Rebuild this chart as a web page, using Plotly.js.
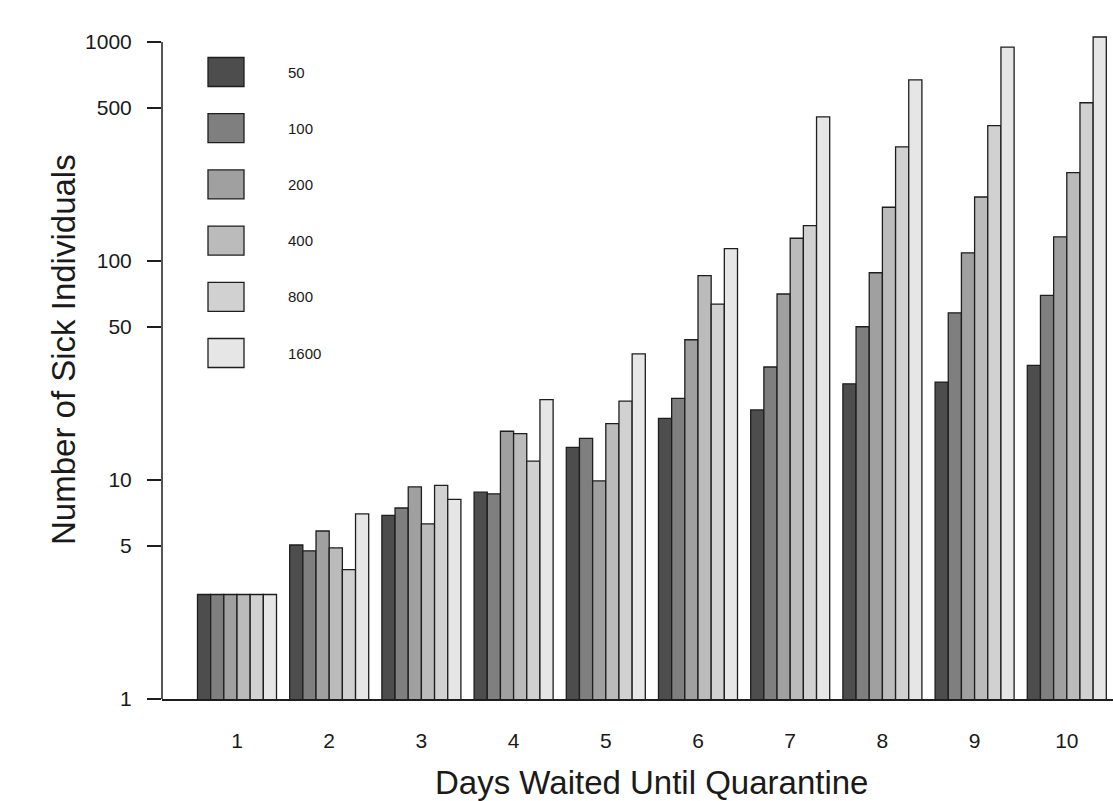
<!DOCTYPE html>
<html>
<head>
<meta charset="utf-8">
<script src="https://cdn.plot.ly/plotly-3.0.1.min.js"></script>
<style>
  html, body { margin: 0; padding: 0; background: #ffffff; }
  #chart { width: 1113px; height: 801px; }
</style>
</head>
<body>
<div id="chart"></div>
<script>
// ---- data ----
var days = [1, 2, 3, 4, 5, 6, 7, 8, 9, 10];
var seriesNames = ["50", "100", "200", "400", "800", "1600"];
var s50   = [3, 5.05, 6.9, 8.8, 14.1, 19.1, 20.9, 27.5, 28.0, 33.4];
var s100  = [3, 4.75, 7.45, 8.65, 15.5, 23.6, 32.8, 50.1, 58.0, 69.7];
var s200  = [3, 5.85, 9.3, 16.7, 9.9, 43.7, 70.7, 88.4, 109, 129];
var s400  = [3, 4.9, 6.3, 16.3, 18.1, 85.7, 127, 176, 196, 253];
var s800  = [3, 3.9, 9.45, 12.2, 22.9, 63.6, 145, 332, 415, 528];
var s1600 = [3, 7.0, 8.15, 23.3, 37.7, 114, 455, 672, 948, 1054];
var yTickVals = [1, 5, 10, 50, 100, 500, 1000];
var yTickText = ["1", "5", "10", "50", "100", "500", "1000"];
var xTitle = "Days Waited Until Quarantine";
var yTitle = "Number of Sick Individuals";

// ---- style ----
var colors = ["#4D4D4D", "#7F7F7F", "#A0A0A0", "#BBBBBB", "#D1D1D1", "#E6E6E6"];
var allSeries = [s50, s100, s200, s400, s800, s1600];
var W = 1113, H = 801;
var mL = 162, mR = 0, mT = 16, mB = 102;
var plotW = W - mL - mR, plotH = H - mT - mB;
var pxPerDecade = 219;
var pxPerGroup = 92.2, firstCenterPx = 237;
var xr0 = 1 - (firstCenterPx - mL) / pxPerGroup;
var xr1 = xr0 + plotW / pxPerGroup;
var txt = "#1a1a1a";
var font = "Liberation Sans, Arial, Helvetica, sans-serif";

function px2paperX(px) { return (px - mL) / plotW; }
function px2paperY(py) { return (H - mB - py) / plotH; }

var traces = allSeries.map(function (vals, i) {
  return {
    type: "bar",
    x: days,
    y: vals,
    name: seriesNames[i],
    marker: { color: colors[i], line: { color: "#1e1e1e", width: 1.3 } },
    showlegend: false,
    hoverinfo: "skip"
  };
});

// custom legend (boxes + labels) like the original
var shapes = [];
var annotations = [];
var legBoxX0 = 208, legBoxX1 = 244, legBoxH = 29, legFirstY = 72, legStep = 56.2, legLabelX = 286;
seriesNames.forEach(function (nm, i) {
  var cy = legFirstY + i * legStep;
  shapes.push({
    type: "rect", xref: "paper", yref: "paper",
    x0: px2paperX(legBoxX0), x1: px2paperX(legBoxX1),
    y0: px2paperY(cy + legBoxH / 2), y1: px2paperY(cy - legBoxH / 2),
    fillcolor: colors[i], line: { color: "#1e1e1e", width: 1.3 }
  });
  annotations.push({
    xref: "paper", yref: "paper", x: px2paperX(legLabelX), y: px2paperY(cy),
    xanchor: "left", yanchor: "middle", showarrow: false, text: nm,
    font: { family: font, size: 15, color: txt }
  });
});

// y axis line from 1 to 1000 (as R draws it)
shapes.push({
  type: "line", xref: "paper", yref: "y", x0: 0, x1: 0, y0: 1, y1: 1000,
  line: { color: "#1e1e1e", width: 1.5 }
});

// axis titles
annotations.push({
  xref: "paper", yref: "paper", x: px2paperX(651.5), y: px2paperY(762),
  xanchor: "center", yanchor: "top", showarrow: false, text: xTitle,
  font: { family: font, size: 33, color: txt }
});
annotations.push({
  xref: "paper", yref: "paper", x: px2paperX(64), y: px2paperY(350),
  xanchor: "center", yanchor: "middle", showarrow: false, text: yTitle, textangle: -90,
  font: { family: font, size: 33, color: txt }
});

var layout = {
  width: W, height: H,
  margin: { l: mL, r: mR, t: mT, b: mB, pad: 0 },
  paper_bgcolor: "#ffffff", plot_bgcolor: "#ffffff",
  barmode: "group", bargap: 1 / 7, bargroupgap: 0,
  showlegend: false,
  font: { family: font, color: txt },
  xaxis: {
    type: "linear", range: [xr0, xr1],
    tickvals: days, ticktext: days.map(String),
    ticks: "", showgrid: false, zeroline: false,
    showline: true, linecolor: "#1e1e1e", linewidth: 1.5,
    tickfont: { family: font, size: 21, color: txt },
    ticklabelstandoff: 22,
    automargin: false
  },
  yaxis: {
    type: "log", range: [0, plotH / pxPerDecade],
    tickvals: yTickVals, ticktext: yTickText,
    ticks: "outside", ticklen: 14, tickwidth: 1.5, tickcolor: "#1e1e1e",
    showgrid: false, zeroline: false, showline: false,
    tickfont: { family: font, size: 21, color: txt },
    ticklabelstandoff: 11,
    automargin: false
  },
  shapes: shapes,
  annotations: annotations
};

Plotly.newPlot("chart", traces, layout, { staticPlot: true, displayModeBar: false });
</script>
</body>
</html>
